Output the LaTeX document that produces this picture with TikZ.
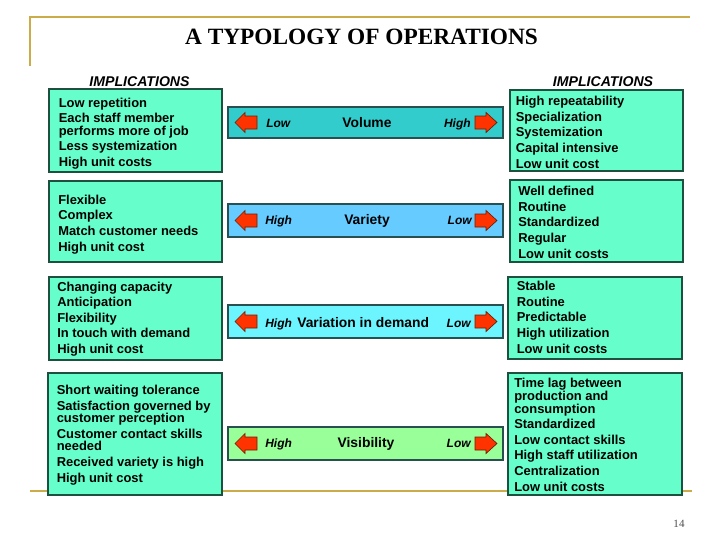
\documentclass[tikz,border=0pt]{standalone}
\usepackage{fontspec}
\setmainfont{Liberation Serif}
\setsansfont{Liberation Sans}
\definecolor{gold}{RGB}{204,172,72}
\definecolor{boxfill}{RGB}{102,255,204}
\definecolor{boxline}{RGB}{30,80,64}
\definecolor{barline}{RGB}{40,80,80}
\definecolor{volfill}{RGB}{51,204,204}
\definecolor{varfill}{RGB}{102,204,255}
\definecolor{vdfill}{RGB}{108,245,255}
\definecolor{visfill}{RGB}{153,255,153}
\definecolor{arrred}{RGB}{255,51,0}
\definecolor{arrline}{RGB}{110,30,0}
\newcommand\myLarr[1]{\draw[arr] (235,#1) -- (245,#1-10) -- (245,#1-6.5) -- (257,#1-6.5) -- (257,#1+6.5) -- (245,#1+6.5) -- (245,#1+10) -- cycle;}
\newcommand\myRarr[1]{\draw[arr] (497,#1) -- (486,#1-10) -- (486,#1-6.5) -- (475,#1-6.5) -- (475,#1+6.5) -- (486,#1+6.5) -- (486,#1+10) -- cycle;}
\begin{document}
\begin{tikzpicture}[x=0.75pt,y=-0.75pt,
  boxtxt/.style={anchor=base west, inner sep=0pt, align=left, font=\sffamily\bfseries\fontsize{9.7}{9.4}\selectfont},
  bartxt/.style={inner sep=0pt, font=\sffamily\bfseries\fontsize{10.4}{12}\selectfont},
  lohi/.style={inner sep=0pt, font=\sffamily\bfseries\itshape\fontsize{9}{11}\selectfont},
  impl/.style={inner sep=0pt, anchor=base, font=\sffamily\bfseries\itshape\fontsize{10.6}{12}\selectfont},
  ibox/.style={draw=boxline, fill=boxfill, line width=0.8pt},
  barbox/.style={draw=barline, line width=0.8pt},
  arr/.style={fill=arrred, draw=arrline, line width=0.5pt, line join=miter},
  goldline/.style={draw=gold, line width=1.2pt}]
\fill[white] (0,0) rectangle (728,546);
\useasboundingbox (0,0) rectangle (728,546);
% gold frame lines
\draw[goldline] (30,66) -- (30,17) -- (690,17);
\draw[goldline] (30,491) -- (692,491);
% title
\node[inner sep=0pt, anchor=base, font=\bfseries\fontsize{17.5}{20}\selectfont] (title) at (361.5,44.5) {A TYPOLOGY OF OPERATIONS};
\node[impl] (implL) at (139.5,86) {IMPLICATIONS};
\node[impl] (implR) at (603,86) {IMPLICATIONS};
% boxes
\draw[ibox] (49,89) rectangle (222,172);
\draw[ibox] (510,90) rectangle (683,171);
\draw[ibox] (49,181) rectangle (222,262);
\draw[ibox] (510,180) rectangle (683,262);
\draw[ibox] (49,277) rectangle (222,360);
\draw[ibox] (508,277) rectangle (682,359);
\draw[ibox] (48,373) rectangle (222,495);
\draw[ibox] (508,373) rectangle (682,495);
% box texts (anchored at the baseline of the last line)
\node[boxtxt] (t1L) at (58.5,166.5) {Low repetition\\[2.3pt]Each staff member\\performs more of job\\[2.3pt]Less systemization\\[2.3pt]High unit costs};
\node[boxtxt] (t1R) at (515.5,168) {High repeatability\\[2.3pt]Specialization\\[2.3pt]Systemization\\[2.3pt]Capital intensive\\[2.3pt]Low unit cost};
\node[boxtxt] (t2L) at (58,251) {Flexible\\[2.3pt]Complex\\[2.3pt]Match customer needs\\[2.3pt]High unit cost};
\node[boxtxt] (t2R) at (518,258) {Well defined\\[2.3pt]Routine\\[2.3pt]Standardized\\[2.3pt]Regular\\[2.3pt]Low unit costs};
\node[boxtxt] (t3L) at (57,353.5) {Changing capacity\\[2.3pt]Anticipation\\[2.3pt]Flexibility\\[2.3pt]In touch with demand\\[2.3pt]High unit cost};
\node[boxtxt] (t3R) at (516.5,353) {Stable\\[2.3pt]Routine\\[2.3pt]Predictable\\[2.3pt]High utilization\\[2.3pt]Low unit costs};
\node[boxtxt] (t4L) at (56.5,482) {Short waiting tolerance\\[2.3pt]Satisfaction governed by\\customer perception\\[2.3pt]Customer contact skills\\needed\\[2.3pt]Received variety is high\\[2.3pt]High unit cost};
\node[boxtxt] (t4R) at (514,491) {Time lag between\\production and\\consumption\\[2.3pt]Standardized\\[2.3pt]Low contact skills\\[2.3pt]High staff utilization\\[2.3pt]Centralization\\[2.3pt]Low unit costs};
% bars
\draw[barbox, fill=volfill] (228,107) rectangle (503,138);
\draw[barbox, fill=varfill] (228,204) rectangle (503,237);
\draw[barbox, fill=vdfill] (228,305) rectangle (503,338);
\draw[barbox, fill=visfill] (228,427) rectangle (503,460);
\myLarr{122.5}\myRarr{122.5}
\myLarr{220.5}\myRarr{220.5}
\myLarr{321.5}\myRarr{321.5}
\myLarr{443.5}\myRarr{443.5}
% bar labels
\node[lohi, anchor=base west] (b1l) at (266,127.5) {Low};
\node[bartxt, anchor=base] (b1c) at (367,127.5) {Volume};
\node[lohi, anchor=base east] (b1r) at (471,127.5) {High};
\node[lohi, anchor=base west] (b2l) at (265,224.5) {High};
\node[bartxt, anchor=base] (b2c) at (367,224.5) {Variety};
\node[lohi, anchor=base east] (b2r) at (472,224.5) {Low};
\node[lohi, anchor=base west] (b3l) at (265,327) {High};
\node[bartxt, anchor=base west] (b3c) at (297,327) {Variation in demand};
\node[lohi, anchor=base east] (b3r) at (471,327) {Low};
\node[lohi, anchor=base west] (b4l) at (265,447) {High};
\node[bartxt, anchor=base] (b4c) at (366,447) {Visibility};
\node[lohi, anchor=base east] (b4r) at (471,447) {Low};
% page number
\node[inner sep=0pt, anchor=base, text=black!70, font=\fontsize{8.3}{10}\selectfont] (pg) at (679,527) {14};
\end{tikzpicture}
\end{document}
